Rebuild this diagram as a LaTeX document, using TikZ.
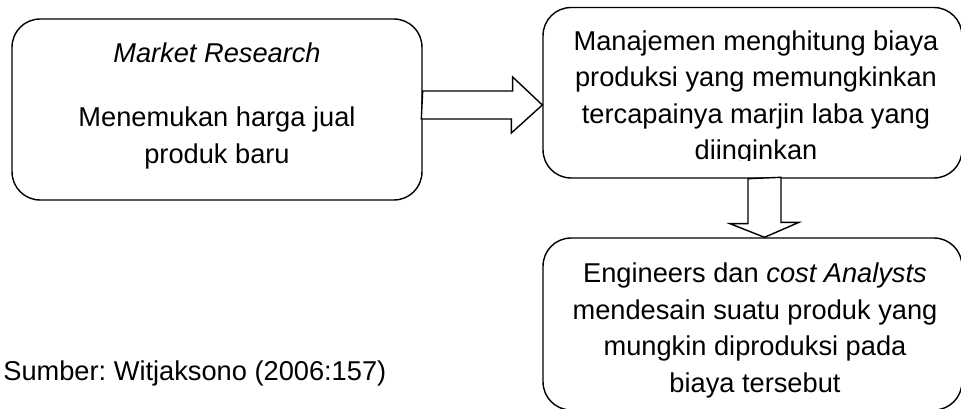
\documentclass[tikz,border=0pt]{standalone}
\usepackage{fontspec}
\setmainfont{Liberation Sans}
\frenchspacing
\usetikzlibrary{calc}
\tikzset{
    mybox/.style = {rectangle, rounded corners=0.56cm, draw=black, line width=0.8pt, fill=white, minimum width=8.38cm, minimum height=3.41cm, inner sep=0pt},
    mytext/.style = {align=center, inner sep=0pt, font=\fontsize{15.5}{20.8}\selectfont},
    edgeblock/.style = {draw=black, line width=0.8pt, fill=white, line join=miter}, % block arrow
}
\begin{document}
\begin{tikzpicture}[x=0.02cm, y=-0.02cm]
\useasboundingbox (0,0) rectangle (961,409);
%
\node[mybox, minimum width=8.2cm, minimum height=3.62cm] at (217,109.5) (research) {};
\node[mybox] at (752.5,92.75) (cost) {};
\node[mybox, minimum height=3.44cm] at (752.5,324) (design) {};
%
\node[mytext] at (217,106) (researchtext) {\textit{Market Research}\\[15.6pt] Menemukan harga jual\\ produk baru};
\begin{scope}
\clip (543,7) rectangle (962,160);
\node[mytext] at (756,98) (costtext) {Manajemen menghitung biaya\\ produksi yang memungkinkan\\ tercapainya marjin laba yang\\ diinginkan};
\end{scope}
\node[mytext] at (755,330.6) (designtext) {Engineers dan \textit{cost Analysts}\\ mendesain suatu produk yang\\ mungkin diproduksi pada\\ biaya tersebut};
\node[mytext, anchor=base west] at (3,380) (source) {Sumber: Witjaksono (2006:157)};
%
\draw[edgeblock] ($(research.east)+(0,-18.5)$) -- ++(90,0) -- ++(0,-14)
    -- ($(cost.west |- research.east)+(0,-4.5)$) -- ++(-31,28) -- ++(0,-14) -- ++(-90,0) -- cycle;
\draw[edgeblock] ($(cost.south)+(-4.5,0)$) -- ++(0,45) -- ++(-18,0)
    -- ($(design.north)+(12,0)$) -- ++(34.5,-15) -- ++(-18,0) -- ++(0,-45) -- cycle;
\end{tikzpicture}
\end{document}
